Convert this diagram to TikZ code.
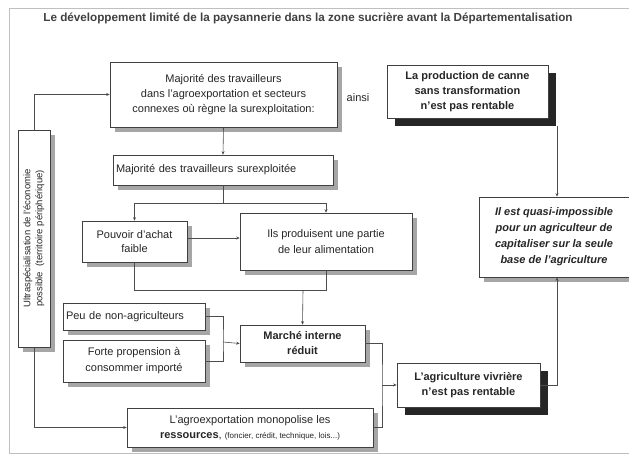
\documentclass[tikz,border=0pt]{standalone}
\usepackage{fontspec}
\setmainfont{Liberation Sans}
\usetikzlibrary{shadows,arrows.meta}
\tikzset{
  base/.style={draw=black!75, line width=0.6pt, fill=white, text=black!85, inner sep=3pt, align=center, font=\fontsize{11}{15}\selectfont},
  box/.style={base, drop shadow={shadow xshift=5pt, shadow yshift=-5pt, fill=black!35, opacity=1}},
  darkbox/.style={base, drop shadow={shadow xshift=8pt, shadow yshift=-8pt, fill=black!85, opacity=1}},
  conn/.style={draw=black!70, line width=0.6pt},
  arr/.style={conn, -{Stealth[length=3.5pt,width=3pt]}},
  frame/.style={draw=black!25, line width=0.8pt}
}
\begin{document}
\begin{tikzpicture}[x=1pt,y=-1pt]
\useasboundingbox (0,0) rectangle (629,457);
\fill[white] (0,0) rectangle (629,457);
\draw[frame] (629,8) -- (9,8) -- (9,453) -- (629,453);

\node[font=\bfseries\fontsize{11.7}{13}\selectfont, text=black!75] (title) at (308,18)
  {Le développement limité de la paysannerie dans la zone sucrière avant la Départementalisation};

\node[box, minimum width=227, minimum height=65] (maj) at (223.5,94.5)
  {Majorité des travailleurs\\dans l'agroexportation et secteurs\\connexes où règne la surexploitation:};
\node[text=black!85, font=\fontsize{11}{15}\selectfont] (ainsi) at (358,98) {ainsi};
\node[darkbox, minimum width=161, minimum height=53, font=\bfseries\fontsize{11}{15}\selectfont] (canne) at (467.5,91.5)
  {La production de canne\\sans transformation\\n'est pas rentable};
\node[box, minimum height=30, text width=214, align=left] (surexp) at (223,170)
  {Majorité des travailleurs surexploitée};
\node[box, minimum width=105, minimum height=41, font=\fontsize{11}{14}\selectfont] (pouvoir) at (134.5,241.5)
  {Pouvoir d'achat\\faible};
\node[box, minimum width=172, minimum height=57, font=\fontsize{11}{16}\selectfont] (ils) at (326,241.5)
  {Ils produisent une partie\\de leur alimentation};
\node[box, minimum width=150, minimum height=80, font=\bfseries\itshape\fontsize{11}{16}\selectfont] (ilest) at (554,237)
  {Il est quasi-impossible\\pour un agriculteur de\\capitaliser sur la seule\\base de l'agriculture};
\node[box, minimum width=32, minimum height=217, inner sep=1pt] (left) at (34,238.5)
  {\rotatebox{90}{\fontsize{9.5}{12}\selectfont\begin{tabular}{@{}c@{}}Ultraspécialisation de l'économie\\possible\ \ (territoire périphérique)\end{tabular}}};
\node[box, minimum height=27, text width=136, align=left] (peu) at (134,316.5)
  {Peu de non-agriculteurs};
\node[box, minimum width=142, minimum height=42, font=\fontsize{11}{16}\selectfont] (forte) at (134,361)
  {Forte propension à\\consommer importé};
\node[box, minimum width=125, minimum height=37, font=\bfseries\fontsize{11}{15}\selectfont] (marche) at (302.5,343.5)
  {Marché interne\\réduit};
\node[darkbox, minimum width=143, minimum height=44, font=\bfseries\fontsize{11}{15}\selectfont] (agri) at (468.5,385)
  {L'agriculture vivrière\\n'est pas rentable};
\node[box, minimum width=246, minimum height=39] (agro) at (250,427.5)
  {L'agroexportation monopolise les\\\textbf{ressources}, {\fontsize{8}{10}\selectfont (foncier, crédit, technique, lois...)}};

% connectors
\coordinate (j1) at (223,203);
\coordinate (j2) at (303,290);
\coordinate (j3) at (223,342);
\coordinate (j4) at (382,385);
\coordinate (rc) at (557,0);

\draw[arr] (left.north) |- (maj.west);
\draw[arr] (maj.south) -- (surexp.north);
\draw[conn] (surexp.south) -- (j1);
\draw[arr] (j1) -| (pouvoir.north);
\draw[arr] (j1) -| (ils.north);
\draw[arr] (pouvoir.east |- 0,238) -- (ils.west |- 0,238);
\draw[conn] (pouvoir.south) |- (ils.south |- j2) -- (ils.south);
\draw[arr] (j2) -- (marche.north);
\draw[conn] (peu.east) -| (j3) |- (forte.east);
\draw[arr] (j3) -- (marche.west);
\draw[conn] (marche.east) -| (j4) |- (agro.east);
\draw[arr] (j4) -- (agri.west);
\draw[arr] (left.south) |- (agro.west);
\draw[arr] (rc |- canne.south) ++(0,8) -- (rc |- ilest.north);
\draw[arr] (agri.east) -| (rc |- ilest.south);
\end{tikzpicture}
\end{document}
